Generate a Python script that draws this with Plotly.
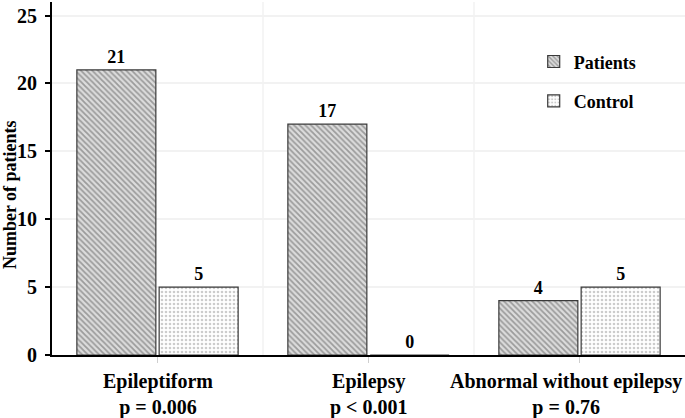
import plotly.graph_objects as go

categories = ["Epileptiform", "Epilepsy", "Abnormal without epilepsy"]
p_values = ["p = 0.006", "p < 0.001", "p = 0.76"]
patients = [21, 17, 4]
control = [5, 0, 5]
y_ticks = [0, 5, 10, 15, 20, 25]
y_title = "Number of patients"

FONT = "Liberation Serif"
# the long last label is nudged left (as in the reference) so it fits the frame
label_shifts = [0, 0, -14]

fig = go.Figure()
fig.add_trace(go.Bar(
    name="Patients", x=categories, y=patients, legendgroup="a",
    text=patients, textposition="outside",
    textfont=dict(family=FONT, size=18, color="black", weight="bold"),
    cliponaxis=False,
    marker=dict(color="#d9d9d9", line=dict(color="#3a3a3a", width=1.2),
                pattern=dict(shape="\\", fgcolor="#5a5a5a", bgcolor="#dcdcdc",
                             size=4, solidity=0.45)),
))
fig.add_trace(go.Bar(
    name="Control", x=categories, y=control, legendgroup="b",
    text=control, textposition="outside",
    textfont=dict(family=FONT, size=18, color="black", weight="bold"),
    cliponaxis=False,
    marker=dict(color="white", line=dict(color="#3a3a3a", width=1.2),
                pattern=dict(shape=".", fgcolor="#9a9a9a", bgcolor="white",
                             size=4, solidity=0.35)),
))

for xb in [0.5, 1.5]:
    fig.add_shape(type="line", xref="x", yref="paper", x0=xb, x1=xb, y0=0, y1=1,
                  line=dict(color="#f2f2f2", width=1.5), layer="below")

for cat, p, sh in zip(categories, p_values, label_shifts):
    fig.add_annotation(text=f"{cat}<br>{p}", x=cat, xref="x", y=0, yref="paper",
                       xanchor="center", yanchor="top", xshift=sh, yshift=-13,
                       showarrow=False,
                       font=dict(family=FONT, size=20, color="black", weight="bold"))

fig.add_annotation(text=y_title, xref="paper", yref="paper", x=0, y=0.453,
                   xanchor="center", yanchor="middle", xshift=-42, textangle=-90,
                   showarrow=False,
                   font=dict(family=FONT, size=18, color="black", weight="bold"))

fig.update_layout(
    width=685, height=418,
    margin=dict(l=52, r=0, t=2, b=63),
    paper_bgcolor="white", plot_bgcolor="white",
    barmode="group", bargap=0.22, bargroupgap=0.04,
    font=dict(family=FONT, color="black"),
    legend=dict(x=0.761, y=0.883, xanchor="left", yanchor="top",
                font=dict(family=FONT, size=18, color="black", weight="bold"),
                tracegroupgap=13, bgcolor="rgba(0,0,0,0)"),
    xaxis=dict(
        tickmode="array", tickvals=categories, showticklabels=False,
        showline=True, linecolor="black", linewidth=2,
        ticks="outside", ticklen=6, tickcolor="#cfcfcf",
        showgrid=False, automargin=False,
    ),
    yaxis=dict(
        range=[0, 26.0], tickvals=y_ticks,
        tickfont=dict(family=FONT, size=20, color="black", weight="bold"),
        showline=True, linecolor="black", linewidth=2,
        ticks="outside", ticklen=5, tickcolor="black", tickwidth=2,
        ticklabelstandoff=4,
        showgrid=True, gridcolor="#f2f2f2", gridwidth=1.5, zeroline=False,
        automargin=False,
    ),
)

fig.write_html("out.html",
               config={"displayModeBar": False},
               post_script="document.body.style.margin='0';document.body.style.padding='0';")
